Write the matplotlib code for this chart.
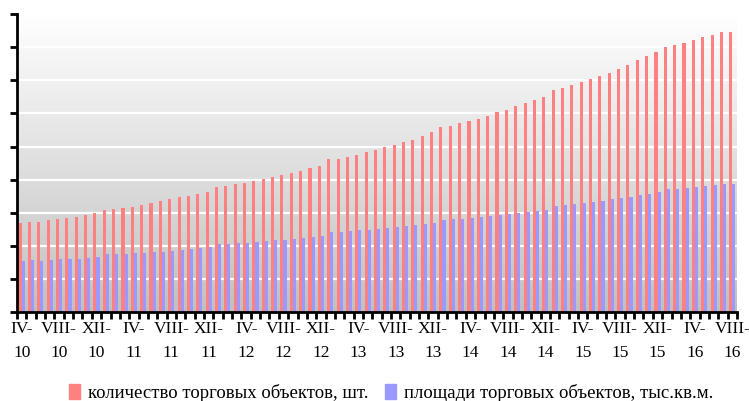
import matplotlib
matplotlib.use("Agg")
import matplotlib.pyplot as plt
import numpy as np
from matplotlib.patches import Patch
from matplotlib.colors import LinearSegmentedColormap

# monthly categories IV-2010 .. VIII-2016
roman = ["I", "II", "III", "IV", "V", "VI", "VII", "VIII", "IX", "X", "XI", "XII"]
months = []
for yr in range(10, 17):
    for m in range(12):
        if (yr == 10 and m < 3) or (yr == 16 and m > 7):
            continue
        months.append(f"{roman[m]}-\n{yr}")

objects_count = [269, 272, 272, 279, 282, 285, 288, 294, 300, 309,
                 312, 315, 318, 324, 330, 336, 342, 348, 351, 357,
                 363, 378, 381, 387, 390, 396, 402, 408, 414, 420,
                 426, 435, 441, 463, 463, 469, 475, 484, 490, 499,
                 505, 514, 520, 532, 544, 559, 562, 571, 577, 583,
                 592, 604, 610, 623, 632, 641, 650, 671, 677, 686,
                 695, 704, 713, 722, 734, 746, 761, 773, 785, 801,
                 807, 813, 822, 831, 837, 846, 846]
objects_area = [155, 158, 155, 158, 161, 161, 161, 164, 167, 176,
                176, 176, 179, 179, 182, 182, 185, 188, 191, 194,
                197, 206, 206, 209, 209, 212, 215, 218, 218, 221,
                224, 227, 230, 242, 242, 245, 248, 248, 251, 254,
                257, 260, 263, 266, 269, 279, 282, 282, 285, 288,
                291, 294, 297, 300, 303, 306, 309, 321, 324, 327,
                330, 333, 336, 342, 345, 348, 354, 357, 363, 372,
                372, 375, 378, 381, 384, 387, 387]
series_names = ["количество торговых объектов, шт.", "площади торговых объектов, тыс.кв.м."]
y_ticks = [0, 100, 200, 300, 400, 500, 600, 700, 800, 900]

plt.rcParams['font.family'] = ['Liberation Serif', 'DejaVu Serif']

fig = plt.figure(figsize=(7.49, 4.01), dpi=100)
ax = fig.add_axes([17/749, (401-312.3)/401, 720/749, (312.3-14)/401])

n = len(months)
x = np.arange(n)
ax.set_xlim(-0.5, n - 0.5)
ax.set_ylim(0, 900)

# gradient background: white at top, gray at bottom
grad = np.linspace(0, 1, 256).reshape(-1, 1)
cmap = LinearSegmentedColormap.from_list("bg", ["#ffffff", "#c0c0c0"])
ax.imshow(grad, extent=[-0.5, n - 0.5, 0, 900], origin='upper', aspect='auto',
          cmap=cmap, zorder=0)

for t in y_ticks[1:]:
    ax.axhline(t, color="white", lw=1.6, zorder=1)

w = 0.33
ax.bar(x - w/2, objects_count, width=w, color="#FF8080", zorder=2, linewidth=0)
ax.bar(x + w/2, objects_area, width=w, color="#9999FF", zorder=2, linewidth=0)

ax.set_yticks(y_ticks)
ax.set_yticklabels([])
ax.tick_params(axis='y', length=5, width=2, direction='out')

ax.set_xticks(np.arange(n + 1) - 0.5)
ax.set_xticklabels([])
ax.tick_params(axis='x', which='major', length=5, width=2, direction='out')
ax.set_xticks(x[::4], minor=True)
ax.set_xticklabels(months[::4], minor=True, fontsize=12.5, linespacing=1.7)
ax.tick_params(axis='x', which='minor', length=0, pad=6)

for s in ["top", "right"]:
    ax.spines[s].set_visible(False)
ax.spines["left"].set_linewidth(2)
ax.spines["bottom"].set_linewidth(2)

handles = [Patch(color="#FF8080"), Patch(color="#9999FF")]
fig.legend(handles, series_names, loc="center", bbox_to_anchor=(0.522, 1 - 393/401),
           ncol=2, frameon=False, fontsize=13.5, handlelength=0.6, handleheight=0.9,
           handletextpad=0.4, columnspacing=0.9)

fig.savefig("out.png", dpi=100)
